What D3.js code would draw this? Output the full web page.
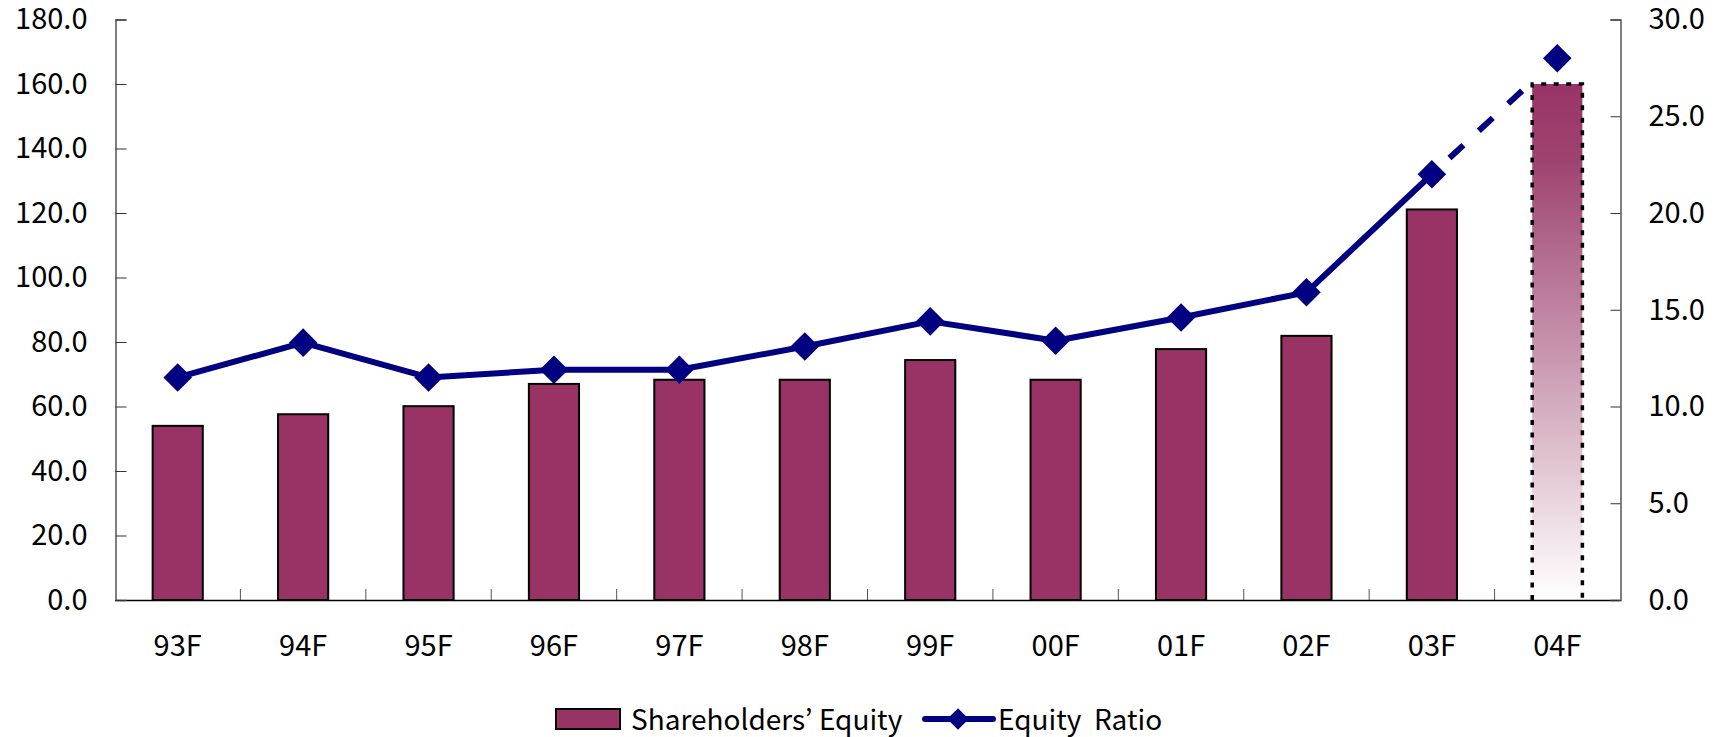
<!DOCTYPE html>
<html>
<head>
<meta charset="utf-8">
<script src="https://cdn.jsdelivr.net/npm/d3@7/dist/d3.min.js"></script>
<style>
  html, body { margin: 0; padding: 0; background: #fff; }
  svg { display: block; }
  text { font-family: "Noto Sans CJK JP", "Noto Sans", sans-serif; fill: #000; }
</style>
</head>
<body>
<svg id="chart" width="1714" height="737"></svg>
<script>
// Fiscal years on the category axis
const categories = ["93F", "94F", "95F", "96F", "97F", "98F", "99F", "00F", "01F", "02F", "03F", "04F"];
// Shareholders' equity (left axis)
const equity = [54.0, 57.6, 60.1, 67.0, 68.3, 68.3, 74.4, 68.3, 77.8, 81.9, 121.1, 160.0];
// Equity ratio, % (right axis)
const equityRatio = [11.5, 13.3, 11.5, 11.9, 11.9, 13.1, 14.4, 13.4, 14.6, 15.9, 22.0, 28.0];
// Axis tick values
const leftTicks = [0, 20, 40, 60, 80, 100, 120, 140, 160, 180];
const rightTicks = [0, 5, 10, 15, 20, 25, 30];
// Legend entries
const legendLabels = ["Shareholders\u2019 Equity", "Equity\u00a0\u00a0Ratio"];
// The last year is a forecast: drawn with a fading bar and dashed line
const forecastIndex = 11;

const BAR = "#993366";
const LINE = "#000080";

const svg = d3.select("#chart");
const plot = { left: 115, right: 1620, top: 19.5, bottom: 600 };

const x = d3.scaleBand()
  .domain(categories)
  .range([plot.left, plot.right])
  .paddingInner(0.6)
  .paddingOuter(0.3);

const yL = d3.scaleLinear().domain([0, 180]).range([plot.bottom, plot.top]);
const yR = d3.scaleLinear().domain([0, 30]).range([plot.bottom, plot.top]);

const fmt = d3.format(".1f");

// Gradient for the forecast bar
const defs = svg.append("defs");
const grad = defs.append("linearGradient")
  .attr("id", "fadeBar")
  .attr("x1", 0).attr("y1", 0).attr("x2", 0).attr("y2", 1);
grad.append("stop").attr("offset", "0%").attr("stop-color", BAR);
grad.append("stop").attr("offset", "15%").attr("stop-color", "#9e4470");
grad.append("stop").attr("offset", "100%").attr("stop-color", "#ffffff");

// Bars
const bars = svg.append("g");
bars.selectAll("rect")
  .data(categories.map((c, i) => ({ c, v: equity[i], i })))
  .join("rect")
  .attr("x", d => x(d.c))
  .attr("y", d => yL(d.v))
  .attr("width", x.bandwidth())
  .attr("height", d => yL(0) - yL(d.v))
  .attr("fill", d => d.i === forecastIndex ? "url(#fadeBar)" : BAR)
  .attr("stroke", d => d.i === forecastIndex ? "none" : "#000")
  .attr("stroke-width", 2);

// Dotted outline of the forecast bar (left, top, right)
const fb = { x0: x(categories[forecastIndex]), x1: x(categories[forecastIndex]) + x.bandwidth(),
             y0: yL(equity[forecastIndex]), y1: yL(0) };
svg.append("path")
  .attr("d", `M${fb.x0},${fb.y1}V${fb.y0}H${fb.x1}V${fb.y1}`)
  .attr("fill", "none")
  .attr("stroke", "#000")
  .attr("stroke-width", 3.5)
  .attr("stroke-dasharray", "5,7.5");

// Category axis: labels at centres, ticks at category boundaries
const xAxis = svg.append("g")
  .attr("transform", `translate(0,${plot.bottom})`)
  .call(d3.axisBottom(x).tickSize(0).tickPadding(35));
xAxis.select(".domain").remove();
xAxis.selectAll("text").attr("font-size", 29).style("font-family", "'Noto Sans CJK JP', sans-serif");

const step = x.step();
const boundaries = categories.slice(1).map(c => x(c) + x.bandwidth() / 2 - step / 2);
svg.append("g").selectAll("line")
  .data(boundaries)
  .join("line")
  .attr("x1", d => d).attr("x2", d => d)
  .attr("y1", plot.bottom).attr("y2", plot.bottom - 11)
  .attr("stroke", "#555").attr("stroke-width", 1);

svg.append("line")
  .attr("x1", plot.left).attr("x2", plot.right)
  .attr("y1", plot.bottom + 0.5).attr("y2", plot.bottom + 0.5)
  .attr("stroke", "#000").attr("stroke-width", 1.5);

// Left axis
const leftAxis = svg.append("g")
  .attr("transform", `translate(${plot.left + 0.5},0)`)
  .call(d3.axisLeft(yL).tickValues(leftTicks).tickFormat(fmt).tickSize(-11).tickPadding(28));
leftAxis.select(".domain").attr("stroke", "#555").attr("stroke-width", 1.5);
leftAxis.selectAll(".tick line").attr("stroke", "#333");
leftAxis.selectAll("text").attr("font-size", 29).style("font-family", "'Noto Sans CJK JP', sans-serif");

// Right axis
const rightAxis = svg.append("g")
  .attr("transform", `translate(${plot.right + 0.5},0)`)
  .call(d3.axisRight(yR).tickValues(rightTicks).tickFormat(fmt).tickSize(-10).tickPadding(28));
rightAxis.select(".domain").attr("stroke", "#555").attr("stroke-width", 1.5);
rightAxis.selectAll(".tick line").attr("stroke", "#333");
rightAxis.selectAll("text").attr("font-size", 29).style("font-family", "'Noto Sans CJK JP', sans-serif");

// Equity ratio line
const pts = categories.map((c, i) => [x(c) + x.bandwidth() / 2, yR(equityRatio[i])]);
const line = d3.line();
svg.append("path")
  .attr("d", line(pts.slice(0, forecastIndex)))
  .attr("fill", "none").attr("stroke", LINE).attr("stroke-width", 6)
  .attr("stroke-linejoin", "round");
svg.append("path")
  .attr("d", line(pts.slice(forecastIndex - 1, forecastIndex + 1)))
  .attr("fill", "none").attr("stroke", LINE).attr("stroke-width", 6)
  .attr("stroke-dasharray", "0,24,19,21,19,21,19,60");

const diamond = d3.symbol().type(d3.symbolDiamond2);
svg.append("g").selectAll("path")
  .data(pts)
  .join("path")
  .attr("transform", d => `translate(${d[0]},${d[1]})`)
  .attr("d", diamond.size(520)())
  .attr("fill", LINE);

// Legend
const lg = svg.append("g");
lg.append("rect")
  .attr("x", 556).attr("y", 709).attr("width", 64).attr("height", 20)
  .attr("fill", BAR).attr("stroke", "#000").attr("stroke-width", 2);
lg.append("text")
  .attr("x", 631).attr("y", 730)
  .attr("font-size", 28)
  .text(legendLabels[0]);
lg.append("line")
  .attr("x1", 925).attr("x2", 993).attr("y1", 719).attr("y2", 719)
  .attr("stroke", LINE).attr("stroke-width", 6).attr("stroke-linecap", "round");
lg.append("path")
  .attr("transform", "translate(958,719)")
  .attr("d", diamond.size(300)())
  .attr("fill", LINE);
lg.append("text")
  .attr("x", 998).attr("y", 730)
  .attr("font-size", 28)
  .text(legendLabels[1]);
</script>
</body>
</html>
